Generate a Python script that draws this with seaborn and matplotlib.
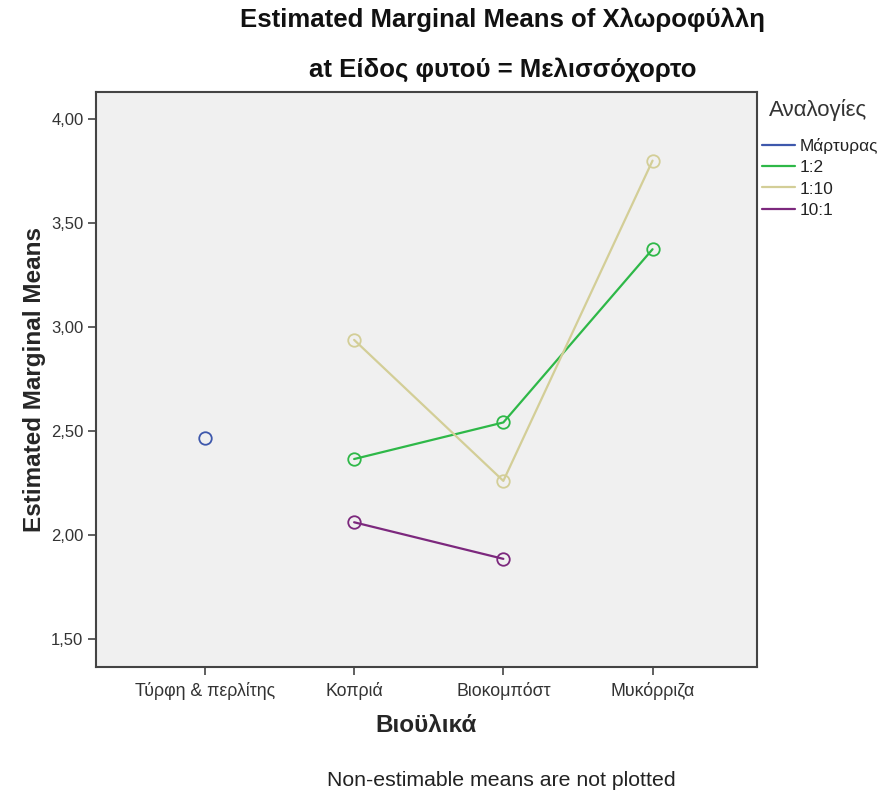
import numpy as np
import pandas as pd
import seaborn as sns
import matplotlib
matplotlib.use("Agg")
import matplotlib.pyplot as plt
from matplotlib.lines import Line2D
from matplotlib.ticker import FuncFormatter

# ---- data ----
categories = ["Τύρφη & περλίτης", "Κοπριά", "Βιοκομπόστ", "Μυκόρριζα"]
groups = ["Μάρτυρας", "1:2", "1:10", "10:1"]
martyras = [2.466, np.nan, np.nan, np.nan]
ratio_1_2 = [np.nan, 2.365, 2.541, 3.374]
ratio_1_10 = [np.nan, 2.938, 2.260, 3.800]
ratio_10_1 = [np.nan, 2.061, 1.885, np.nan]
y_ticks = [1.5, 2.0, 2.5, 3.0, 3.5, 4.0]
colors = ["#3E58AC", "#2EB848", "#D3CE97", "#7C287D"]

series = [martyras, ratio_1_2, ratio_1_10, ratio_10_1]
rows = []
for g, vals in zip(groups, series):
    for i, (c, v) in enumerate(zip(categories, vals)):
        if not np.isnan(v):
            rows.append({"pos": i, "Βιοϋλικά": c, "Αναλογίες": g, "value": v})
df = pd.DataFrame(rows)

sns.set_theme(style="white")
plt.rcParams["font.family"] = ["Liberation Sans", "DejaVu Sans"]

fig = plt.figure(figsize=(8.82, 7.95), dpi=100)
ax = fig.add_axes([96 / 882, 1 - 667 / 795, (757 - 96) / 882, (667 - 92) / 795])
ax.set_facecolor("#F0F0F0")

palette = dict(zip(groups, colors))
sns.lineplot(data=df, x="pos", y="value", hue="Αναλογίες", hue_order=groups,
             palette=palette, marker="o", markersize=9, linewidth=1.6,
             legend=False, ax=ax, sort=False)
for line in ax.lines:
    c = line.get_color()
    line.set_markerfacecolor("none")
    line.set_markeredgecolor(c)
    line.set_markeredgewidth(1.3)

ax.set_xlim(-0.73, 3.7)
ax.set_ylim(1.365, 4.13)
ax.set_xticks(range(len(categories)))
ax.set_xticklabels(categories)
ax.set_yticks(y_ticks)
ax.yaxis.set_major_formatter(FuncFormatter(lambda v, p: f"{v:.2f}".replace(".", ",")))
ax.tick_params(axis="both", which="major", direction="out", length=6, width=1.2,
               color="#444444", labelcolor="#333333", pad=3,
               bottom=True, left=True)
ax.tick_params(axis="x", labelsize=12.8, pad=5)
ax.tick_params(axis="y", labelsize=12)
for s in ax.spines.values():
    s.set_color("#444444")
    s.set_linewidth(1.5)

ax.set_xlabel("Βιοϋλικά", fontsize=17.5, fontweight="bold", labelpad=10)
ax.set_ylabel("Estimated Marginal Means", fontsize=17.5, fontweight="bold", labelpad=4)

fig.text(503 / 882, 1 - 20 / 795, "Estimated Marginal Means of Χλωροφύλλη",
         ha="center", va="center", fontsize=18.5, fontweight="bold", color="#111111")
fig.text(503 / 882, 1 - 70 / 795, "at Είδος φυτού = Μελισσόχορτο",
         ha="center", va="center", fontsize=18.5, fontweight="bold", color="#111111")
fig.text(501 / 882, 1 - 781 / 795, "Non-estimable means are not plotted",
         ha="center", va="center", fontsize=15.3, color="#222222")

# legend title
fig.text(769 / 882, 1 - 110 / 795, "Αναλογίες", ha="left", va="center",
         fontsize=16, color="#333333")
handles = [Line2D([0], [0], color=c, lw=1.6) for c in colors]
leg = fig.legend(handles, groups, loc="upper left",
                 bbox_to_anchor=(762 / 882, 1 - 138 / 795), frameon=False,
                 fontsize=12.4, handlelength=1.9,
                 handletextpad=0.3, labelspacing=0.36, borderaxespad=0,
                 borderpad=0)
for t in leg.get_texts():
    t.set_color("#222222")

fig.savefig("out.png", dpi=100)
